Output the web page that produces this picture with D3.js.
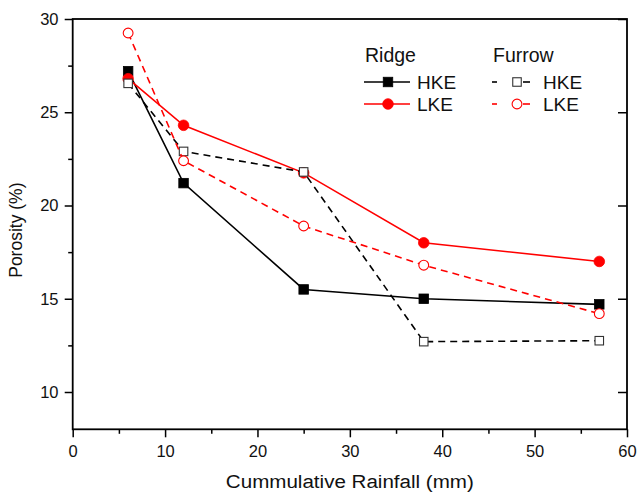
<!DOCTYPE html>
<html>
<head>
<meta charset="utf-8">
<script src="https://cdn.jsdelivr.net/npm/d3@7"></script>
<style>
  html, body { margin: 0; padding: 0; background: #fff; }
  svg { display: block; font-family: "Liberation Sans", Arial, Helvetica, sans-serif; }
</style>
</head>
<body>
<svg id="chart" width="639" height="494"></svg>
<script>
// Cumulative rainfall (mm) at each sampling
const rainfall = [6, 12, 25, 38, 57];

// Porosity (%) per treatment
const ridgeHKE  = [27.2, 21.2, 15.5, 15.0, 14.7];
const ridgeLKE  = [26.8, 24.3, 21.75, 18.0, 17.0];
const furrowHKE = [26.55, 22.9, 21.8, 12.7, 12.75];
const furrowLKE = [29.25, 22.4, 18.9, 16.8, 14.2];

// Axis ticks
const xMajorTicks = [0, 10, 20, 30, 40, 50, 60];
const xMinorTicks = [5, 15, 25, 35, 45, 55];
const yMajorTicks = [10, 15, 20, 25, 30];
const yMinorTicks = [12.5, 17.5, 22.5, 27.5];

const xTitle = "Cummulative Rainfall (mm)";
const yTitle = "Porosity (%)";
const groupTitles = ["Ridge", "Furrow"];

const series = [
  { group: 0, label: "HKE", values: ridgeHKE,  color: "#000", dash: null,  shape: "square", filled: true },
  { group: 0, label: "LKE", values: ridgeLKE,  color: "#ff0000", dash: null, shape: "circle", filled: true },
  { group: 1, label: "HKE", values: furrowHKE, color: "#000", dash: "7,5", shape: "square", filled: false },
  { group: 1, label: "LKE", values: furrowLKE, color: "#ff0000", dash: "7,5", shape: "circle", filled: false }
];

const svg = d3.select("#chart");
const W = 639, H = 494;
const margin = { top: 19, right: 12, bottom: 64.7, left: 72.7 };
const iw = W - margin.left - margin.right;
const ih = H - margin.top - margin.bottom;

const x = d3.scaleLinear().domain([0, 60]).range([0, iw]);
const y = d3.scaleLinear().domain([8, 30]).range([ih, 0]);

const g = svg.append("g").attr("transform", `translate(${margin.left},${margin.top})`);

// ---- axes ----
function styleAxis(sel) {
  sel.selectAll("path.domain").remove();
  sel.selectAll("line").attr("stroke", "#000").attr("stroke-width", 1.5);
  sel.selectAll("text").attr("fill", "#111").style("font-size", "16.5px");
}

g.append("g").attr("transform", `translate(0,${ih})`)
  .call(d3.axisBottom(x).tickValues(xMajorTicks).tickSize(8).tickPadding(7.5).tickFormat(d3.format("d")))
  .call(styleAxis);
g.append("g").attr("transform", `translate(0,${ih})`)
  .call(d3.axisBottom(x).tickValues(xMinorTicks).tickSize(4.5).tickFormat(""))
  .call(styleAxis);

g.append("g")
  .call(d3.axisLeft(y).tickValues(yMajorTicks).tickSize(8).tickPadding(6.2).tickFormat(d3.format("d")))
  .call(styleAxis);
g.append("g")
  .call(d3.axisLeft(y).tickValues(yMinorTicks).tickSize(4.5).tickFormat(""))
  .call(styleAxis);

g.append("g").attr("transform", `translate(${iw},0)`)
  .call(d3.axisLeft(y).tickValues(yMajorTicks).tickSize(9).tickFormat(""))
  .call(styleAxis);

// frame
g.append("rect")
  .attr("x", 0).attr("y", 0).attr("width", iw).attr("height", ih)
  .attr("fill", "none").attr("stroke", "#000").attr("stroke-width", 1.8);

// axis titles
svg.append("text")
  .attr("x", margin.left + iw / 2).attr("y", 488)
  .attr("text-anchor", "middle")
  .attr("textLength", 248).attr("lengthAdjust", "spacingAndGlyphs")
  .style("font-size", "18px").attr("fill", "#111")
  .text(xTitle);

svg.append("text")
  .attr("transform", `translate(22,${margin.top + ih / 2 + 6}) rotate(-90)`)
  .attr("text-anchor", "middle")
  .style("font-size", "17.5px").attr("fill", "#111")
  .text(yTitle);

// ---- markers ----
function drawMarker(sel, s, cx, cy) {
  const fill = s.filled ? s.color : "#fff";
  if (s.shape === "square") {
    const size = s.filled ? 9.5 : 8.5;
    sel.append("rect")
      .attr("x", cx - size / 2).attr("y", cy - size / 2)
      .attr("width", size).attr("height", size)
      .attr("fill", fill)
      .attr("stroke", s.filled ? s.color : "#333")
      .attr("stroke-width", s.filled ? 0.8 : 1.1);
  } else {
    sel.append("circle")
      .attr("cx", cx).attr("cy", cy).attr("r", s.filled ? 5.3 : 4.9)
      .attr("fill", fill)
      .attr("stroke", s.color)
      .attr("stroke-width", s.filled ? 0.8 : 1.1);
  }
}

// ---- series lines then markers ----
const line = d3.line().x((d, i) => x(rainfall[i])).y(d => y(d));

series.forEach(s => {
  const sg = g.append("g");
  sg.append("path")
    .datum(s.values)
    .attr("d", line)
    .attr("fill", "none")
    .attr("stroke", s.color)
    .attr("stroke-width", 1.6)
    .attr("stroke-dasharray", s.dash);
  s.values.forEach((v, i) => drawMarker(sg, s, x(rainfall[i]), y(v)));
});

// ---- legend ----
const legendX = [364, 492];
const legendTitleY = 62;
const legendRowY = [82, 104];
const leg = svg.append("g");

groupTitles.forEach((t, gi) => {
  leg.append("text")
    .attr("x", legendX[gi] + 1).attr("y", legendTitleY)
    .style("font-size", "19.5px").attr("fill", "#111")
    .text(t);
});

series.forEach(s => {
  const row = series.filter(o => o.group === s.group).indexOf(s);
  const x0 = legendX[s.group];
  const yy = legendRowY[row];
  const lg = leg.append("g");
  if (s.dash) {
    // dashed sample: short segments either side of the marker
    [[x0, x0 + 5], [x0 + 31, x0 + 38]].forEach(([a, b]) => {
      lg.append("line").attr("x1", a).attr("x2", b).attr("y1", yy).attr("y2", yy)
        .attr("stroke", s.color).attr("stroke-width", 1.6);
    });
    drawMarker(lg, s, x0 + 25, yy);
    lg.append("text").attr("x", x0 + 51).attr("y", yy + 6.5)
      .style("font-size", "19px").attr("fill", "#111").text(s.label);
  } else {
    lg.append("line").attr("x1", x0).attr("x2", x0 + 46).attr("y1", yy).attr("y2", yy)
      .attr("stroke", s.color).attr("stroke-width", 1.6);
    drawMarker(lg, s, x0 + 24, yy);
    lg.append("text").attr("x", x0 + 53).attr("y", yy + 6.5)
      .style("font-size", "19px").attr("fill", "#111").text(s.label);
  }
});
</script>
</body>
</html>
